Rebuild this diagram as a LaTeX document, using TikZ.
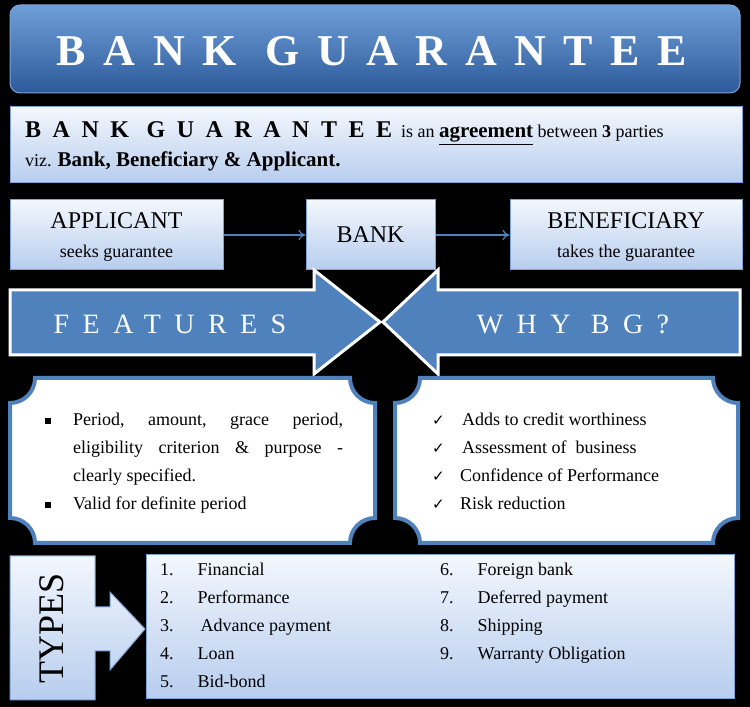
\documentclass[tikz,border=0pt]{standalone}
\usepackage{fontspec}
\setmainfont{Liberation Serif}
\newfontfamily\spacedA[LetterSpace=40]{Liberation Serif}
\newfontfamily\spacedB[LetterSpace=48]{Liberation Serif}
\newfontfamily\symfont{DejaVu Sans}
\usetikzlibrary{arrows.meta}
\definecolor{steel}{HTML}{4F81BD}
\definecolor{dsteel}{HTML}{2C5A9A}
\definecolor{tsteel}{HTML}{6F9FD8}
\definecolor{lsteel}{HTML}{7FA3D6}
\definecolor{pale}{HTML}{F3F7FD}
\definecolor{lblue}{HTML}{B7CDEE}
\tikzset{
 lightbox/.style={draw=lsteel,line width=1pt,top color=pale,bottom color=lblue},
 bigarrow/.style={fill=steel,draw=white,line width=3pt,line join=miter},
 plaque/.style={fill=white,draw=steel,line width=4pt},
 conn/.style={draw=steel,line width=1.2pt,-{To[length=7pt,width=10pt]}},
 txt/.style={font=\fontsize{18}{20}\selectfont,text=black,inner sep=0pt},
 ln/.style={anchor=base west,font=\fontsize{18}{20}\selectfont,text=black,inner sep=0pt}
}
\newcommand{\ck}{{\symfont\fontsize{15}{15}\selectfont ✓}}
\begin{document}
\begin{tikzpicture}[x=1pt,y=1pt]
\fill[black] (0,0) rectangle (750,707);
\useasboundingbox (0,0) rectangle (750,707);
% title
\node[draw=lsteel,line width=1pt,rounded corners=10pt,top color=tsteel,bottom color=dsteel,minimum width=730pt,minimum height=88pt,inner sep=0pt] (title) at (375,658) {};
\node[text=white,font=\spacedA\bfseries\fontsize{44}{48}\selectfont] (ttext) at (372,656) {BANK GUARANTEE};
% definition
\node[lightbox,minimum width=732pt,minimum height=76pt,inner sep=0pt] (def) at (376,562) {};
\node[anchor=base west,inner sep=0pt,font=\fontsize{18}{20}\selectfont] (l1) at (25,569) {{\spacedB\bfseries\fontsize{24}{26}\selectfont BANK GUARANTEE}\ \ is an \underline{\textbf{\fontsize{21}{22}\selectfont agreement}} between \textbf{3} parties};
\node[anchor=base west,inner sep=0pt,font=\fontsize{18}{20}\selectfont] (l2) at (25,540) {viz. \textbf{\fontsize{21}{22}\selectfont Bank, Beneficiary \& Applicant.}};
% parties
\node[lightbox,minimum width=213pt,minimum height=70pt,inner sep=0pt] (app) at (116.5,472) {};
\node[txt,font=\fontsize{24}{26}\selectfont] (appt) at (116.5,486) {APPLICANT};
\node[txt] (apps) at (116.5,454) {seeks guarantee};
\node[lightbox,minimum width=129pt,minimum height=70pt,inner sep=0pt] (bank) at (370.5,472) {};
\node[txt,font=\fontsize{24}{26}\selectfont] (bankt) at (370.5,472) {BANK};
\node[lightbox,minimum width=232pt,minimum height=70pt,inner sep=0pt] (ben) at (626,472) {};
\node[txt,font=\fontsize{24}{26}\selectfont] (bent) at (626,486) {BENEFICIARY};
\node[txt] (bens) at (626,454) {takes the guarantee};
\draw[conn] (app.east) -- (bank.west);
\draw[conn] (bank.east) -- (ben.west);
% big arrows
\draw[bigarrow] (10,417) -- (314,417) -- (314,437) -- (380,385) -- (314,333) -- (314,352) -- (10,352) -- cycle;
\draw[bigarrow] (740,417) -- (438,417) -- (438,437) -- (383,385) -- (438,333) -- (438,352) -- (740,352) -- cycle;
\node[text=white,font=\spacedB\fontsize{28}{30}\selectfont] (feat) at (170,383) {FEATURES};
\node[text=white,font=\spacedB\fontsize{28}{30}\selectfont] (why) at (573,383) {WHY BG?};
% plaques
\draw[plaque] (35,329) -- (350,329) arc[start angle=180,end angle=270,radius=25] -- (375,189) arc[start angle=90,end angle=180,radius=25] -- (35,164) arc[start angle=0,end angle=90,radius=25] -- (10,304) arc[start angle=270,end angle=360,radius=25] -- cycle;
\draw[plaque] (420,329) -- (713,329) arc[start angle=180,end angle=270,radius=25] -- (738,189) arc[start angle=90,end angle=180,radius=25] -- (420,164) arc[start angle=0,end angle=90,radius=25] -- (395,189) -- (395,304) arc[start angle=270,end angle=360,radius=25] -- cycle;
\fill (45,283) rectangle (51,289);
\fill (45,199) rectangle (51,205);
\node[ln] (f1) at (73,281) {\hbox to 270pt{Period,\hfill amount,\hfill grace\hfill period,}};
\node[ln] (f2) at (73,253) {\hbox to 270pt{eligibility\hfill criterion\hfill \&\hfill purpose\hfill -}};
\node[ln] (f3) at (73,225) {clearly specified.};
\node[ln] (f4) at (73,197) {Valid for definite period};
\node[ln] (c1) at (432,281) {\ck}; \node[ln] (w1) at (462,281) {Adds to credit worthiness};
\node[ln] (c2) at (432,253) {\ck}; \node[ln] (w2) at (462,253) {Assessment of \ business};
\node[ln] (c3) at (432,225) {\ck}; \node[ln] (w3) at (460,225) {Confidence of Performance};
\node[ln] (c4) at (432,197) {\ck}; \node[ln] (w4) at (460,197) {Risk reduction};
% types
\node[lightbox,minimum width=588pt,minimum height=144pt,inner sep=0pt] (list) at (440,80) {};
\draw[lightbox] (10,151) -- (95,151) -- (95,100) -- (110,100) -- (110,115) -- (145,78) -- (110,37) -- (110,56) -- (95,56) -- (95,7) -- (10,7) -- cycle;
\node[rotate=90,font=\fontsize{36}{38}\selectfont,inner sep=0pt] (types) at (52,79) {TYPES};
\foreach \n/\t [count=\i] in {1/Financial,2/Performance,3/{\,Advance payment},4/Loan,5/Bid-bond}
  \node[ln] (a\i) at (160,159-28*\i) {\n.\hspace{24pt}\t};
\foreach \n/\t [count=\i] in {6/Foreign bank,7/Deferred payment,8/Shipping,9/Warranty Obligation}
  \node[ln] (b\i) at (440,159-28*\i) {\n.\hspace{24pt}\t};
\end{tikzpicture}
\end{document}
